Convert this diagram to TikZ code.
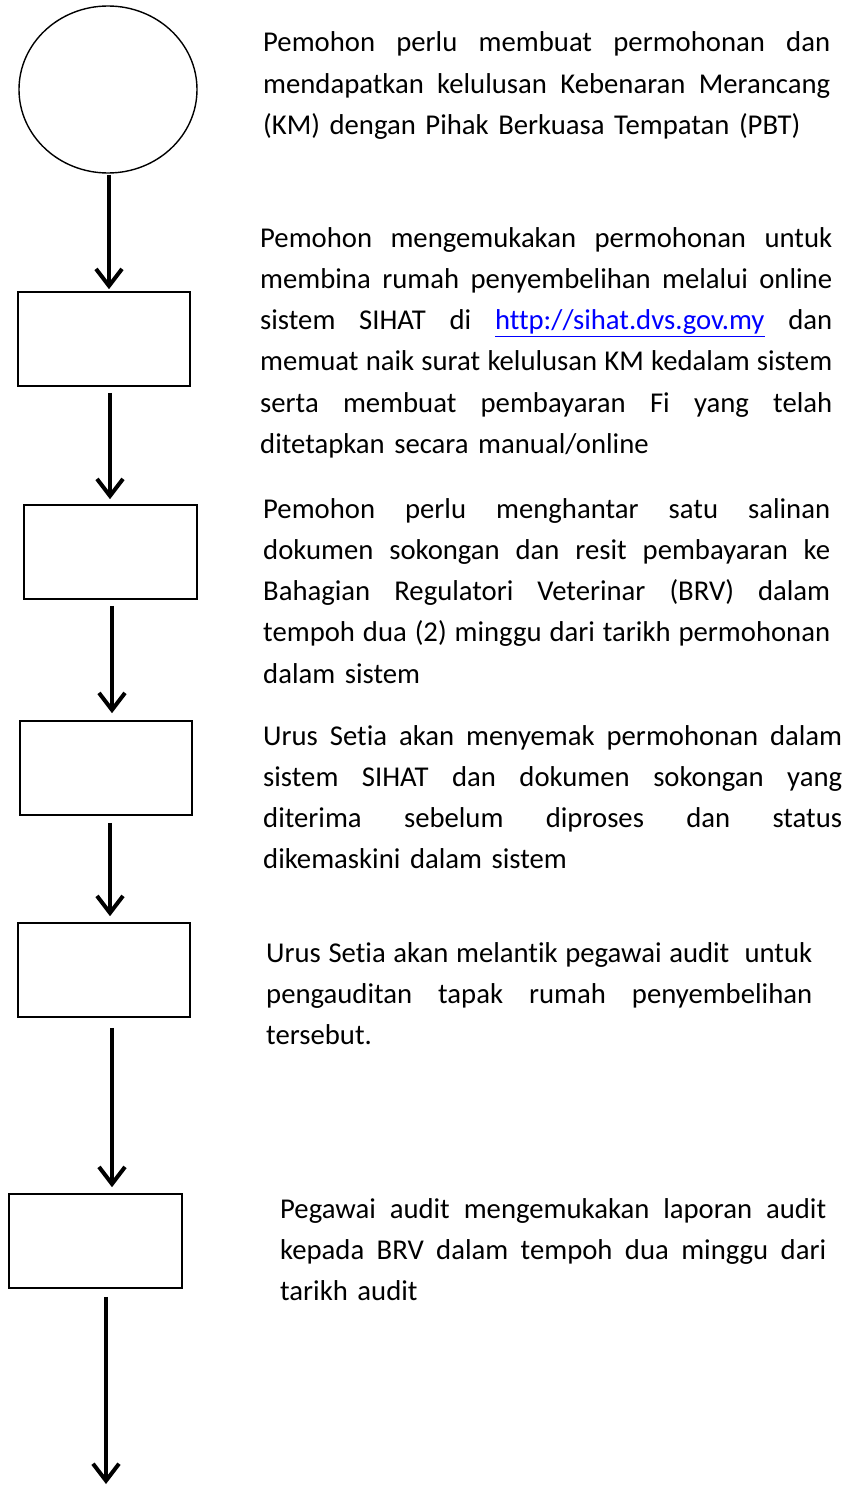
\documentclass[tikz,border=0pt]{standalone}
\usepackage{fontspec}
\setmainfont{Carlito}[Ligatures=NoCommon]
\usetikzlibrary{arrows.meta,shapes.geometric}
\newcommand{\jl}[2]{\leavevmode\hbox to #1{\spaceskip=0.08em plus 1fill\relax #2}}
\begin{document}
\begin{tikzpicture}[x=1pt,y=-1pt,
  boxnode/.style={draw,line width=1.6pt,rectangle,minimum width=172pt,minimum height=94pt,inner sep=0pt},
  startnode/.style={draw,line width=1.4pt,ellipse,minimum width=178pt,minimum height=167pt,inner sep=0pt},
  flowarrow/.style={line width=4pt,-{Straight Barb[length=17pt,width=26pt,line width=4pt]}},
  para/.style={anchor=base west,inner sep=0pt,align=left,font=\fontsize{28.7}{41.3}\selectfont}]
\useasboundingbox[fill=white] (0,0) rectangle (855,1485);
% shapes
\node[startnode] (c0) at (108,89.5) {};
\node[boxnode] (b1) at (104,339) {};
\node[boxnode,minimum width=173pt] (b2) at (110.5,552) {};
\node[boxnode] (b3) at (106,768) {};
\node[boxnode] (b4) at (104,970) {};
\node[boxnode,minimum width=173pt] (b5) at (95.5,1241) {};
\coordinate (e) at (106,1484);
% connectors
\draw[flowarrow] ([shift={(1,1)}]c0.south) -- ([shift={(5,-2)}]b1.north);
\draw[flowarrow] ([shift={(6,6)}]b1.south) -- ([shift={(-0.5,-5)}]b2.north);
\draw[flowarrow] ([shift={(1.5,6)}]b2.south) -- ([shift={(6,-7)}]b3.north);
\draw[flowarrow] ([shift={(4,7)}]b3.south) -- ([shift={(6,-6)}]b4.north);
\draw[flowarrow] ([shift={(8,10)}]b4.south) -- ([shift={(16.5,-6)}]b5.north);
\draw[flowarrow] ([shift={(10.5,8)}]b5.south) -- (e);
% texts
\node[para,text width=567pt] (t1) at (263,52) {%
\jl{567pt}{Pemohon perlu membuat permohonan dan}\\
\jl{567pt}{mendapatkan kelulusan Kebenaran Merancang}\\
(KM) dengan Pihak Berkuasa Tempatan (PBT)};
\node[para,text width=572pt] (t2) at (260,247) {%
\jl{572pt}{Pemohon mengemukakan permohonan untuk}\\
\jl{572pt}{membina rumah penyembelihan melalui online}\\
\jl{572pt}{sistem SIHAT di \textcolor{blue}{\underline{http://sihat.dvs.gov.my}} dan}\\
\jl{572pt}{memuat naik surat kelulusan KM kedalam sistem}\\
\jl{572pt}{serta membuat pembayaran Fi yang telah}\\
ditetapkan secara manual/online};
\node[para,text width=567pt] (t3) at (263,518) {%
\jl{567pt}{Pemohon perlu menghantar satu salinan}\\
\jl{567pt}{dokumen sokongan dan resit pembayaran ke}\\
\jl{567pt}{Bahagian Regulatori Veterinar (BRV) dalam}\\
\jl{567pt}{tempoh dua (2) minggu dari tarikh permohonan}\\
dalam sistem};
\node[para,text width=579pt] (t4) at (263,745) {%
\jl{579pt}{Urus Setia akan menyemak permohonan dalam}\\
\jl{579pt}{sistem SIHAT dan dokumen sokongan yang}\\
\jl{579pt}{diterima sebelum diproses dan status}\\
dikemaskini dalam sistem};
\node[para,text width=546pt] (t5) at (266,962) {%
\jl{546pt}{Urus Setia akan melantik pegawai audit\ \ untuk}\\
\jl{546pt}{pengauditan tapak rumah penyembelihan}\\
tersebut.};
\node[para,text width=546pt] (t6) at (280,1218) {%
\jl{546pt}{Pegawai audit mengemukakan laporan audit}\\
\jl{546pt}{kepada BRV dalam tempoh dua minggu dari}\\
tarikh audit};
\end{tikzpicture}
\end{document}
